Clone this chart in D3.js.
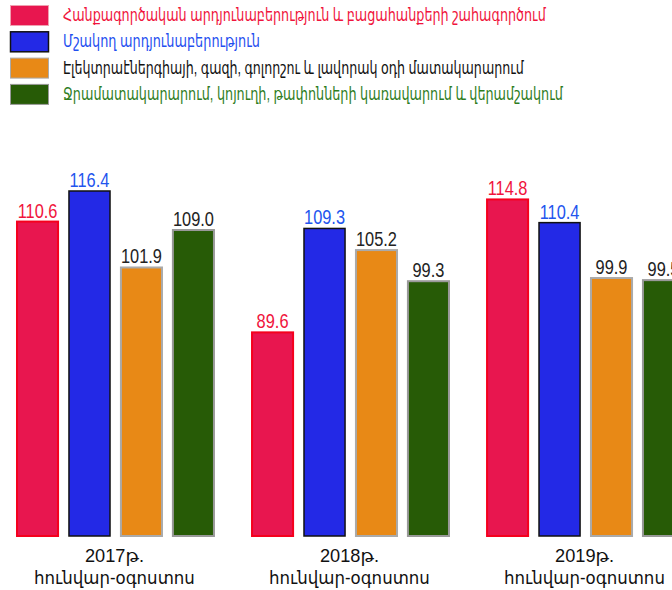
<!DOCTYPE html>
<html>
<head>
<meta charset="utf-8">
<script src="https://cdn.jsdelivr.net/npm/d3@7/dist/d3.min.js"></script>
<style>
  body { margin: 0; background: #fff; }
  svg { display: block; font-family: 'Liberation Sans', Arial, 'DejaVu Sans', sans-serif; }
</style>
</head>
<body>
<div id="chart"></div>
<script>
// data
var years = ['2017թ.', '2018թ.', '2019թ.']
var period = 'հունվար-օգոստոս'
var seriesNames = [
  'Հանքագործական արդյունաբերություն և բացահանքերի շահագործում',
  'Մշակող արդյունաբերություն',
  'Էլեկտրաէներգիայի, գազի, գոլորշու և լավորակ օդի մատակարարում',
  'Ջրամատակարարում, կոյուղի, թափոնների կառավարում և վերամշակում'
]
var mining = [110.6, 89.6, 114.8]
var manufacturing = [116.4, 109.3, 110.4]
var electricity = [101.9, 105.2, 99.9]
var water = [109.0, 99.3, 99.5]

var seriesValues = [mining, manufacturing, electricity, water]
var fills = ['#e8164f', '#2329e6', '#e88916', '#275b06']
var strokes = ['#f5001e', '#111111', '#aaaaaa', '#999999']
var labelColors = ['#f0143c', '#2255ee', '#222222', '#222222']
var legendColors = ['#f0143c', '#1f4ff0', '#111111', '#2e7d1e']
var legendWidths = [483, 197, 461, 500]

var W = 672, H = 590
var svg = d3.select('#chart').append('svg').attr('width', W).attr('height', H)

var base = 536
var x0 = d3.scaleBand().domain(years).range([17, 684]).paddingInner(0.162)
var x1 = d3.scaleBand().domain(d3.range(4)).range([0, x0.bandwidth()]).paddingInner(0.21)
var y = d3.scaleLinear().domain([51, 120]).range([base, 172])

// squeeze a text horizontally to a given width (the source font is condensed)
function squeeze(sel, x, yy, w, anchor) {
  sel.each(function() {
    var t = d3.select(this)
    var len = this.getComputedTextLength()
    var sx = w / len
    var dx = anchor == 'middle' ? -w / 2 : 0
    t.attr('x', 0).attr('y', 0)
      .attr('transform', 'translate(' + (x + dx) + ',' + yy + ') scale(' + sx + ',1)')
  })
}

// legend
var legend = svg.append('g').attr('class', 'legend')
seriesNames.forEach(function(name, i) {
  var ly = 5 + i * 26.3
  legend.append('rect')
    .attr('x', 10.5).attr('y', ly + 0.5)
    .attr('width', 38).attr('height', 20)
    .style('fill', fills[i])
    .style('stroke', i == 0 ? '#f0a0b0' : strokes[i])
    .style('stroke-width', i == 1 ? 1.5 : 1)
  legend.append('text')
    .style('font-size', '18px')
    .style('fill', legendColors[i])
    .text(name)
    .call(squeeze, 63, ly + 16, legendWidths[i], 'start')
})

// bars
var groups = svg.selectAll('.grp')
  .data(years)
  .enter().append('g')
  .attr('class', 'grp')
  .attr('transform', function(d) { return 'translate(' + x0(d) + ',0)' })

groups.selectAll('rect')
  .data(function(d, gi) { return seriesValues.map(function(s, si) { return {si: si, v: s[gi]} }) })
  .enter().append('rect')
  .attr('x', function(d) { return x1(d.si) })
  .attr('y', function(d) { return y(d.v) })
  .attr('width', x1.bandwidth())
  .attr('height', function(d) { return base - y(d.v) })
  .style('fill', function(d) { return fills[d.si] })
  .style('stroke', function(d) { return strokes[d.si] })
  .style('stroke-width', function(d) { return d.si == 1 ? 1.5 : 2 })

groups.selectAll('text.val')
  .data(function(d, gi) { return seriesValues.map(function(s, si) { return {si: si, v: s[gi]} }) })
  .enter().append('text')
  .attr('class', 'val')
  .attr('text-anchor', 'middle')
  .attr('transform', function(d) {
    return 'translate(' + (x1(d.si) + x1.bandwidth() / 2) + ',' + (y(d.v) - 4) + ') scale(0.78,1)'
  })
  .style('font-size', '21px')
  .style('fill', function(d) { return labelColors[d.si] })
  .text(function(d) { return d.v.toFixed(1) })

// category labels
var cx = x0.bandwidth() / 2 - 1
groups.append('text')
  .style('font-size', '18px')
  .style('fill', '#111')
  .text(function(d) { return d })
  .call(squeeze, cx, 562, 59, 'middle')

groups.append('text')
  .style('font-size', '18px')
  .style('fill', '#111')
  .text(period)
  .call(squeeze, cx, 584, 161, 'middle')
</script>
</body>
</html>
